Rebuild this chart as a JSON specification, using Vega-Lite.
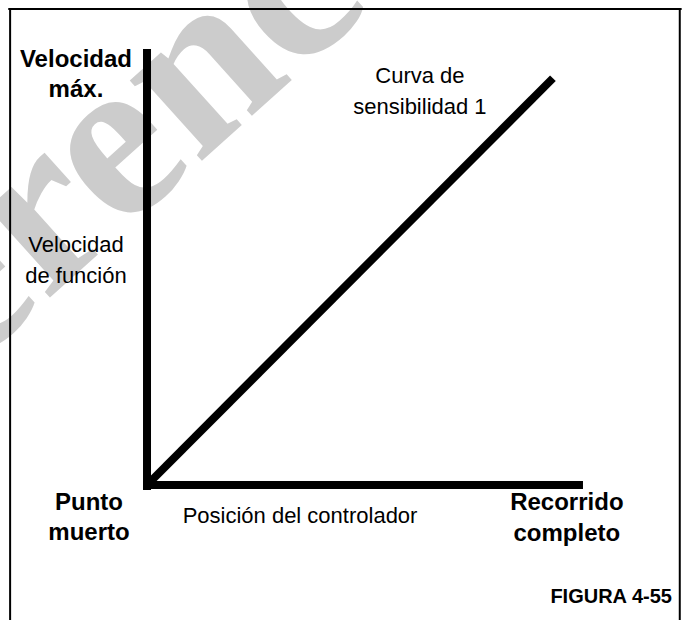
{
  "$schema": "https://vega.github.io/schema/vega-lite/v6.json",
  "width": 684,
  "height": 620,
  "padding": 0,
  "autosize": {"type": "fit", "contains": "padding"},
  "background": "white",
  "config": {"view": {"stroke": null}},
  "datasets": {
    "watermark": [
      {"x": -26.8, "y": 60.8, "label": "Reference"}
    ],
    "frame": [
      {"x": -31.4, "x2": -31.4, "y": -31.0, "y2": 109.2},
      {"x": 122.2, "x2": 122.2, "y": -31.0, "y2": 109.2},
      {"x": -31.6, "x2": 122.4, "y": 109.2, "y2": 109.2}
    ],
    "axes": [
      {"x": 0, "x2": 0, "y": -1.15, "y2": 100},
      {"x": -0.92, "x2": 100, "y": 0, "y2": 0}
    ],
    "curve": [
      {"position": 0.3, "speed": 0.3},
      {"position": 93.1, "speed": 93.3}
    ],
    "boldText": [
      {"x": -16.3, "y": 97.5, "label": "Velocidad"},
      {"x": -16.3, "y": 90.6, "label": "máx."},
      {"x": -13.3, "y": -4.1, "label": "Punto"},
      {"x": -13.3, "y": -11.0, "label": "muerto"},
      {"x": 96.3, "y": -4.1, "label": "Recorrido"},
      {"x": 96.3, "y": -11.3, "label": "completo"}
    ],
    "regularText": [
      {"x": -16.3, "y": 55.0, "label": "Velocidad"},
      {"x": -16.3, "y": 47.9, "label": "de función"},
      {"x": 62.6, "y": 93.8, "label": "Curva de"},
      {"x": 62.6, "y": 86.7, "label": "sensibilidad 1"},
      {"x": 35.1, "y": -7.1, "label": "Posición del controlador"}
    ],
    "figure": [
      {"x": 120.4, "y": -25.7, "label": "FIGURA 4-55"}
    ]
  },
  "layer": [
    {
      "data": {"name": "watermark"},
      "mark": {"type": "text", "font": "Liberation Serif", "fontWeight": "bold", "fontSize": 235, "angle": -42, "align": "center", "baseline": "middle", "color": "#cccccc", "clip": true},
      "encoding": {
        "x": {"field": "x", "type": "quantitative", "scale": {"domain": [-33.72, 123.17], "nice": false, "zero": false}, "axis": null},
        "y": {"field": "y", "type": "quantitative", "scale": {"domain": [-30.96, 111.24], "nice": false, "zero": false}, "axis": null},
        "text": {"field": "label"}
      }
    },
    {
      "data": {"name": "frame"},
      "mark": {"type": "rule", "color": "black", "strokeWidth": 2, "strokeCap": "square", "clip": true},
      "encoding": {
        "x": {"field": "x", "type": "quantitative", "axis": null},
        "x2": {"field": "x2"},
        "y": {"field": "y", "type": "quantitative", "axis": null},
        "y2": {"field": "y2"}
      }
    },
    {
      "data": {"name": "axes"},
      "mark": {"type": "rule", "color": "black", "strokeWidth": 8, "strokeCap": "butt"},
      "encoding": {
        "x": {"field": "x", "type": "quantitative", "axis": null},
        "x2": {"field": "x2"},
        "y": {"field": "y", "type": "quantitative", "axis": null},
        "y2": {"field": "y2"}
      }
    },
    {
      "data": {"name": "curve"},
      "mark": {"type": "line", "color": "black", "strokeWidth": 8, "strokeCap": "butt"},
      "encoding": {
        "x": {"field": "position", "type": "quantitative", "axis": null},
        "y": {"field": "speed", "type": "quantitative", "axis": null}
      }
    },
    {
      "data": {"name": "boldText"},
      "mark": {"type": "text", "font": "Liberation Sans", "fontWeight": "bold", "fontSize": 24, "align": "center", "baseline": "middle", "color": "black"},
      "encoding": {
        "x": {"field": "x", "type": "quantitative", "axis": null},
        "y": {"field": "y", "type": "quantitative", "axis": null},
        "text": {"field": "label"}
      }
    },
    {
      "data": {"name": "regularText"},
      "mark": {"type": "text", "font": "Liberation Sans", "fontSize": 22, "align": "center", "baseline": "middle", "color": "black"},
      "encoding": {
        "x": {"field": "x", "type": "quantitative", "axis": null},
        "y": {"field": "y", "type": "quantitative", "axis": null},
        "text": {"field": "label"}
      }
    },
    {
      "data": {"name": "figure"},
      "mark": {"type": "text", "font": "Liberation Sans", "fontWeight": "bold", "fontSize": 20, "align": "right", "baseline": "middle", "color": "black"},
      "encoding": {
        "x": {"field": "x", "type": "quantitative", "axis": null},
        "y": {"field": "y", "type": "quantitative", "axis": null},
        "text": {"field": "label"}
      }
    }
  ]
}
